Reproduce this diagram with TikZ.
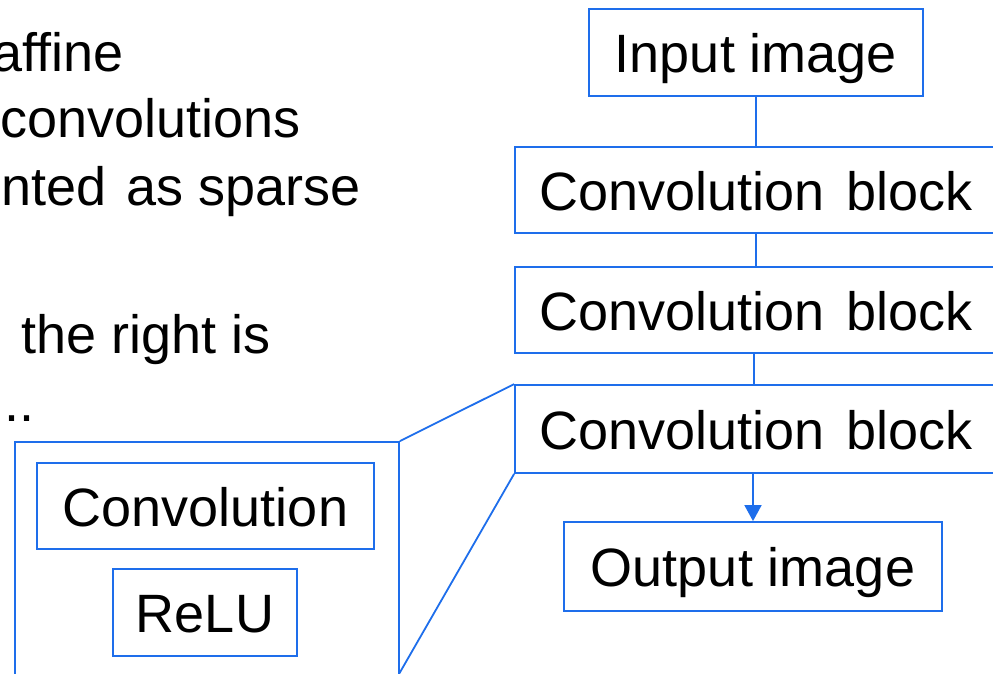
\documentclass[tikz,border=0pt]{standalone}
\usepackage{fontspec}
\setmainfont{Liberation Sans}
\usetikzlibrary{arrows.meta}
\definecolor{boxblue}{RGB}{30,110,235}
\tikzset{
  blk/.style={draw=boxblue, line width=1.8pt, inner sep=0pt, align=center,
    text height=40pt, text depth=0pt,
    font=\fontsize{54}{58}\selectfont},
  link/.style={draw=boxblue, line width=1.8pt},
  txt/.style={inner sep=0pt, font=\fontsize{54}{58}\selectfont}
}
\begin{document}
\begin{tikzpicture}[x=1pt, y=-1pt]
  \useasboundingbox (0,0) rectangle (993,674);
  \clip (0,0) rectangle (993,674);

  % text on the left
  \node[txt, anchor=base east] (t1) at (124,72) {affine};
  \node[txt, anchor=base east] (t2) at (301,138) {convolutions};
  \node[txt, anchor=base east] (t3) at (361,205) {nted\hspace{20pt}as sparse};
  \node[txt, anchor=base west] (t4) at (21,353) {the right is};
  \node[txt, anchor=base west] (t5) at (4,421) {..};

  % main pipeline
  \node[blk, minimum width=334pt, minimum height=87pt] (in) at (756,52.5) {Input image};
  \node[blk, minimum width=482pt, minimum height=86pt] (cb1) at (756,190) {Convolution\hspace{22pt}block};
  \node[blk, minimum width=482pt, minimum height=86pt] (cb2) at (756,310) {Convolution\hspace{22pt}block};
  \node[blk, minimum width=482pt, minimum height=88pt] (cb3) at (756,429) {Convolution\hspace{22pt}block};
  \node[blk, minimum width=378pt, minimum height=89pt] (out) at (753,566.5) {Output image};

  \draw[link] (in.south) -- (cb1.north);
  \draw[link] (cb1.south) -- (cb2.north);
  \draw[link] ([xshift=-2pt]cb2.south) -- ([xshift=-2pt]cb3.north);
  \draw[link, -{Triangle[length=16pt,width=17pt]}] (cb3.south -| out.north) -- (out.north);

  % expanded view of a convolution block
  \node[draw=boxblue, line width=1.8pt, inner sep=0pt, minimum width=384pt, minimum height=260pt]
    (big) at (207,572) {};
  \node[blk, minimum width=337pt, minimum height=86pt] (conv) at (205.5,506) {Convolution};
  \node[blk, minimum width=184pt, minimum height=87pt] (relu) at (205,612.5) {ReLU};

  \coordinate (zb) at (399,674);
  \draw[link] (big.north east) -- (cb3.north west);
  \draw[link] (zb) -- (cb3.south west);
\end{tikzpicture}
\end{document}
